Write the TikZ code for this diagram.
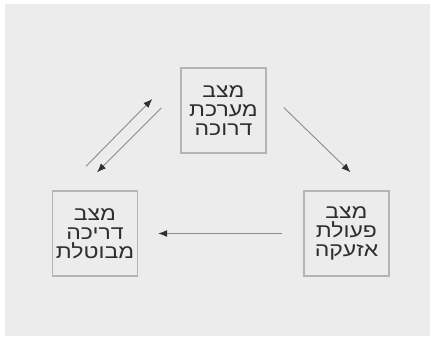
\documentclass[tikz,border=0pt]{standalone}
\usepackage{fontspec}
\usetikzlibrary{arrows.meta}
\TeXXeTstate=1
\newfontfamily\hebfont[Script=Hebrew,FakeStretch=1.18]{Liberation Sans}
\definecolor{bggray}{HTML}{ECECEC}
\definecolor{boxline}{HTML}{B4B4B4}
\definecolor{txt}{HTML}{2E2E2E}
\definecolor{arrline}{HTML}{8C8C8C}
\definecolor{arrhead}{HTML}{303030}
\tikzset{
  statebox/.style={draw=boxline, line width=1.4pt, fill=bggray, minimum width=85pt, minimum height=85pt, inner sep=0pt,
    text=txt, align=center, font=\hebfont\fontsize{19.5}{19}\selectfont},
  conn/.style={draw=arrline, line width=0.9pt, -{Latex[length=9pt,width=7pt,fill=arrhead,color=arrhead]}}
}
\begin{document}
\begin{tikzpicture}[x=1pt,y=1pt]
\useasboundingbox (0,0) rectangle (431,337);
\fill[white] (0,0) rectangle (431,337);
\fill[bggray] (5,1) rectangle (430,333);
\node[statebox] (top) at (223.5,226.5) {\beginR מצב\endR\\\beginR מערכת\endR\\\beginR דרוכה\endR};
\node[statebox] (left) at (95,103.5) {\beginR מצב\endR\\\beginR דריכה\endR\\\beginR מבוטלת\endR};
\node[statebox] (right) at (346.5,103.5) {\beginR מצב\endR\\\beginR פעולת\endR\\\beginR אזעקה\endR};
\draw[conn] ([xshift=17pt,yshift=3pt]top.east) -- ([xshift=4pt,yshift=18pt]right.north);
\draw[conn] ([xshift=-21pt]right.west) -- ([xshift=20pt]left.east);
\draw[conn] ([xshift=-9pt,yshift=24pt]left.north) -- ([xshift=-28pt,yshift=11.5pt]top.west);
\draw[conn] ([xshift=-19pt,yshift=2.5pt]top.west) -- ([xshift=2pt,yshift=18pt]left.north);
\end{tikzpicture}
\end{document}
